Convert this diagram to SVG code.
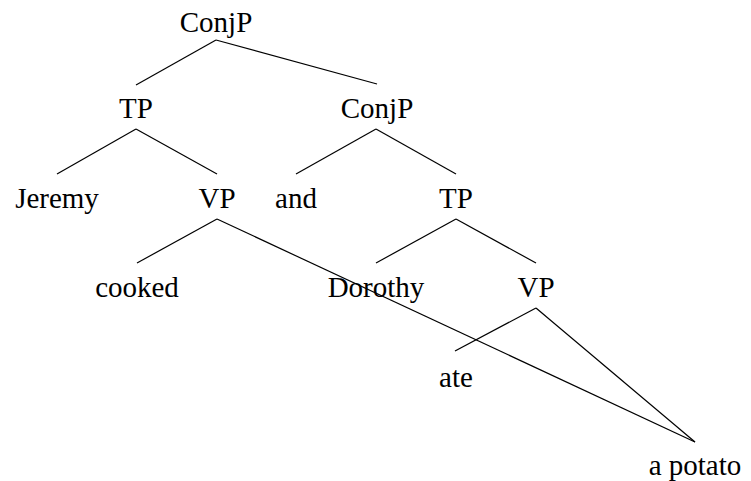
<svg xmlns="http://www.w3.org/2000/svg" width="751" height="481" viewBox="0 0 751 481">
<rect width="751" height="481" fill="#fff"/>
<g id="connectors" stroke="#000" stroke-width="1.2" fill="none">
<line x1="216" y1="40" x2="136" y2="85"/>
<line x1="216" y1="40" x2="377" y2="84"/>
<line x1="136" y1="129" x2="57" y2="174"/>
<line x1="136" y1="129" x2="217" y2="174"/>
<line x1="376" y1="129" x2="296" y2="174"/>
<line x1="376" y1="129" x2="456" y2="174"/>
<line x1="217" y1="219" x2="137" y2="263"/>
<line x1="217" y1="219" x2="695" y2="442"/>
<line x1="456" y1="219" x2="376" y2="263"/>
<line x1="456" y1="219" x2="536" y2="263"/>
<line x1="536" y1="308" x2="455" y2="351"/>
<line x1="536" y1="308" x2="695" y2="442"/>
</g>
<g id="n-conjp1"><text x="216" y="32" style="font-family:'Liberation Serif',serif;font-size:29px" text-anchor="middle">ConjP</text></g>
<g id="n-tp1"><text x="136" y="118" style="font-family:'Liberation Serif',serif;font-size:29px" text-anchor="middle">TP</text></g>
<g id="n-conjp2"><text x="377" y="118" style="font-family:'Liberation Serif',serif;font-size:29px" text-anchor="middle">ConjP</text></g>
<g id="n-jeremy"><text x="57" y="208" style="font-family:'Liberation Serif',serif;font-size:29px" text-anchor="middle">Jeremy</text></g>
<g id="n-vp1"><text x="217" y="208" style="font-family:'Liberation Serif',serif;font-size:29px" text-anchor="middle">VP</text></g>
<g id="n-and"><text x="296" y="208" style="font-family:'Liberation Serif',serif;font-size:29px" text-anchor="middle">and</text></g>
<g id="n-tp2"><text x="456" y="208" style="font-family:'Liberation Serif',serif;font-size:29px" text-anchor="middle">TP</text></g>
<g id="n-cooked"><text x="137" y="297" style="font-family:'Liberation Serif',serif;font-size:29px" text-anchor="middle">cooked</text></g>
<g id="n-dorothy"><text x="376" y="297" style="font-family:'Liberation Serif',serif;font-size:29px" text-anchor="middle">Dorothy</text></g>
<g id="n-vp2"><text x="536" y="297" style="font-family:'Liberation Serif',serif;font-size:29px" text-anchor="middle">VP</text></g>
<g id="n-ate"><text x="456" y="387" style="font-family:'Liberation Serif',serif;font-size:29px" text-anchor="middle">ate</text></g>
<g id="n-apotato"><text x="695" y="475" style="font-family:'Liberation Serif',serif;font-size:29px" text-anchor="middle">a potato</text></g>
</svg>
